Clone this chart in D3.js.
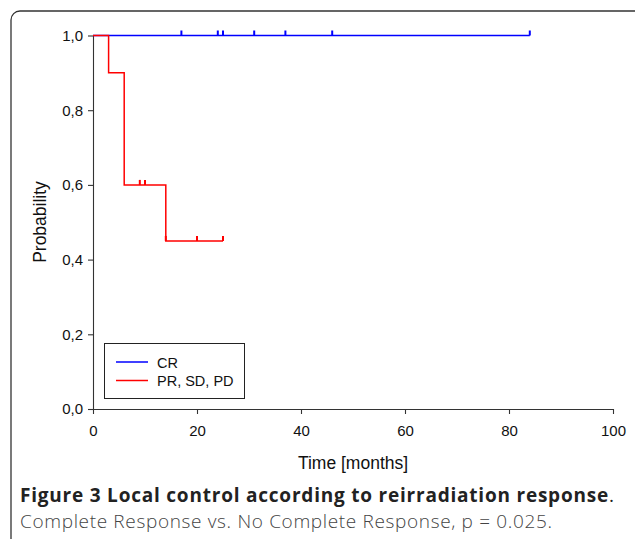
<!DOCTYPE html>
<html><head><meta charset="utf-8">
<script src="https://cdn.jsdelivr.net/npm/d3@7"></script>
<style>body{margin:0;background:#fff}svg{display:block}</style>
</head><body>
<svg id="c" width="635" height="539"></svg>
<script>
// Data
const crSteps = [{t:0,s:1.0},{t:84,s:1.0}];
const crCensored = [17,24,25,31,37,46,84];
const otherSteps = [{t:0,s:1.0},{t:3,s:0.9},{t:6,s:0.6},{t:14,s:0.45},{t:25,s:0.45}];
const otherCensored = [{t:9,s:0.6},{t:10,s:0.6},{t:14,s:0.45},{t:20,s:0.45},{t:25,s:0.45}];
const xTicks = [0,20,40,60,80,100];
const yTicks = [0,0.2,0.4,0.6,0.8,1.0];
const seriesNames = ["CR","PR, SD, PD"];
const seriesColors = ["#0000ff","#ff0000"];

const FONT = "Liberation Sans, Arial, sans-serif";
const svg = d3.select("#c");
// frame
svg.append("rect").attr("x",11).attr("y",11).attr("width",640).attr("height",560)
  .attr("rx",9).attr("fill","none").attr("stroke","#333").attr("stroke-width",1.3);

const x = d3.scaleLinear().domain([0,100]).range([93,613]);
const y = d3.scaleLinear().domain([0,1]).range([409,35.5]);

const fmt = d => d3.format(".1f")(d).replace(".",",");
const gx = svg.append("g").attr("transform","translate(0,409)")
  .call(d3.axisBottom(x).tickValues(xTicks).tickSize(5).tickPadding(11).tickSizeOuter(0));
const gy = svg.append("g").attr("transform","translate(93,0)")
  .call(d3.axisLeft(y).tickValues(yTicks).tickFormat(fmt).tickSize(5).tickPadding(5).tickSizeOuter(0));
[gx,gy].forEach(g=>{
  g.selectAll("path,line").attr("stroke","#333").attr("stroke-width",1.1);
  g.selectAll("text").attr("font-family",FONT).attr("font-size",15).attr("fill","#111");
});

svg.append("text").attr("x",353).attr("y",469).attr("text-anchor","middle")
  .attr("font-family",FONT).attr("font-size",17.5).attr("fill","#111").text("Time [months]");
svg.append("text").attr("transform","translate(46,222) rotate(-90)").attr("text-anchor","middle")
  .attr("font-family",FONT).attr("font-size",17.5).attr("fill","#111").text("Probability");

const line = d3.line().x(d=>x(d.t)).y(d=>y(d.s)).curve(d3.curveStepAfter);
function drawSeries(steps, cens, color){
  svg.append("path").datum(steps).attr("d",line).attr("fill","none").attr("stroke",color).attr("stroke-width",1.5);
  svg.selectAll(null).data(cens).enter().append("line")
    .attr("x1",d=>x(d.t)).attr("x2",d=>x(d.t))
    .attr("y1",d=>y(d.s)).attr("y2",d=>y(d.s)-5)
    .attr("stroke",color).attr("stroke-width",2);
}
drawSeries(crSteps, crCensored.map(t=>({t,s:1.0})), seriesColors[0]);
drawSeries(otherSteps, otherCensored, seriesColors[1]);

// legend
const lg = svg.append("g");
lg.append("rect").attr("x",104.5).attr("y",343.5).attr("width",140).attr("height",55)
  .attr("fill","#fff").attr("stroke","#222").attr("stroke-width",1);
seriesNames.forEach((n,i)=>{
  const yy = 362 + i*18.5;
  lg.append("line").attr("x1",116).attr("x2",148).attr("y1",yy).attr("y2",yy)
    .attr("stroke",seriesColors[i]).attr("stroke-width",1.5);
  lg.append("text").attr("x",157).attr("y",yy+5.5).attr("font-family",FONT)
    .attr("font-size",14.5).attr("fill","#111").text(n);
});

// caption
const cap = svg.append("text").attr("x",20).attr("y",502).attr("font-family","Open Sans, sans-serif")
  .attr("font-size",19).attr("fill","#222").attr("textLength",594).attr("lengthAdjust","spacing");
cap.append("tspan").attr("font-weight","bold").text("Figure 3 Local control according to reirradiation response");
cap.append("tspan").text(".");
svg.append("text").attr("x",20).attr("y",528).attr("font-family","Open Sans, sans-serif").attr("font-size",19)
  .attr("font-weight",300).attr("fill","#444").attr("textLength",532).attr("lengthAdjust","spacing")
  .text("Complete Response vs. No Complete Response, p = 0.025.");
</script>
</body></html>
